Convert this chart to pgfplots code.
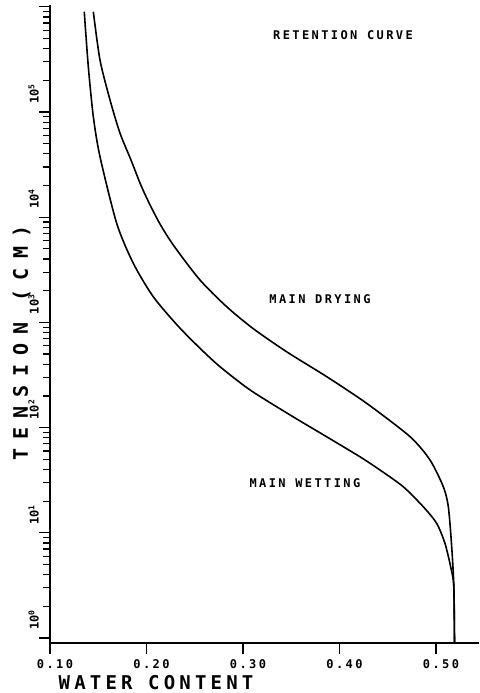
\documentclass[border=0pt]{standalone}
\usepackage{pgfplots}
\pgfplotsset{compat=1.18}
\usepackage{pgfplotstable}
\usepackage{fontspec}
\setmainfont{DejaVu Sans}
\newfontfamily\pf{DejaVu Sans Mono}
\pgfplotstableread{
t h
0.1355 8.97e5
0.1397 2.70e5
0.1449 9.02e4
0.1518 3.76e4
0.1691 8750
0.1863 3650
0.2070 1754
0.2326 925
0.2554 568
0.2762 379
0.3073 228
0.3487 132
0.3867 81.8
0.4212 52.8
0.4420 39.5
0.4661 27.4
0.4868 17.7
0.5007 12.3
0.5093 7.94
0.5152 4.76
0.5185 3.08
0.5192 0.90
}\wetting
\pgfplotstableread{
t h
0.1449 8.97e5
0.1518 3.12e5
0.1622 1.30e5
0.1725 6.31e4
0.1839 3.50e4
0.1933 2.11e4
0.2016 1.43e4
0.2140 8610
0.2285 5320
0.2554 2530
0.2831 1409
0.3104 875
0.3456 523
0.3867 305
0.4282 170
0.4731 82.0
0.4938 49.2
0.5076 27.4
0.5128 17.7
0.5163 7.38
0.5185 3.08
0.5192 0.90
}\drying
\begin{document}
\begin{tikzpicture}
\begin{axis}[name=ax,
  scale only axis, width=429pt, height=638pt,
  ymode=log, xmin=0.1, xmax=0.5446, ymin=0.896, ymax=1.04e6,
  axis x line=bottom, axis y line=left, axis line style={-, line width=1.4pt},
  tick align=outside, major tick length=11pt, minor tick length=7pt,
  every tick/.style={black, line width=1.2pt},
  xtick={0.1,0.2,0.3,0.4,0.5},
  xticklabels={0.10,0.20,0.30,0.40,0.50},
  xticklabel style={font=\pf\bfseries\addfontfeature{LetterSpace=20}\fontsize{12}{12}\selectfont, yshift=-2pt, xshift=5pt},
  ytick={1,10,100,1000,1e4,1e5,1e6},
  yticklabels={10\textsuperscript{0},10\textsuperscript{1},10\textsuperscript{2},10\textsuperscript{3},10\textsuperscript{4},10\textsuperscript{5},},
  yticklabel style={font=\pf\bfseries\fontsize{12}{12}\selectfont, rotate=90, anchor=south west, inner sep=0pt, xshift=8pt},
  xlabel={WATER CONTENT},
  xlabel style={font=\pf\bfseries\addfontfeature{LetterSpace=22}\fontsize{19}{19}\selectfont, at={(axis description cs:0.012,0)}, anchor=north west, yshift=-29pt},
  ylabel={TENSION (CM)},
  ylabel style={font=\pf\bfseries\addfontfeature{LetterSpace=45}\fontsize{20}{20}\selectfont, at={(axis description cs:0,0.470)}, anchor=south, yshift=16pt},
  clip=false,
]
\addplot[black, line width=1.6pt, smooth, tension=0.45] table[x=t,y=h] {\wetting};
\addplot[black, line width=1.6pt, smooth, tension=0.45] table[x=t,y=h] {\drying};
\node[font=\pf\bfseries\addfontfeature{LetterSpace=20}\fontsize{12}{12}\selectfont] at (axis cs:0.4036,5.4e5) {RETENTION CURVE};
\node[font=\pf\bfseries\addfontfeature{LetterSpace=20}\fontsize{12}{12}\selectfont] at (axis cs:0.3798,1668) {MAIN DRYING};
\node[font=\pf\bfseries\addfontfeature{LetterSpace=20}\fontsize{12}{12}\selectfont] at (axis cs:0.3642,29.7) {MAIN WETTING};
\end{axis}
\pgfresetboundingbox
\path[use as bounding box] ([xshift=-50pt,yshift=-50pt]ax.south west) rectangle ([yshift=5pt]ax.north east);
\end{tikzpicture}
\end{document}
